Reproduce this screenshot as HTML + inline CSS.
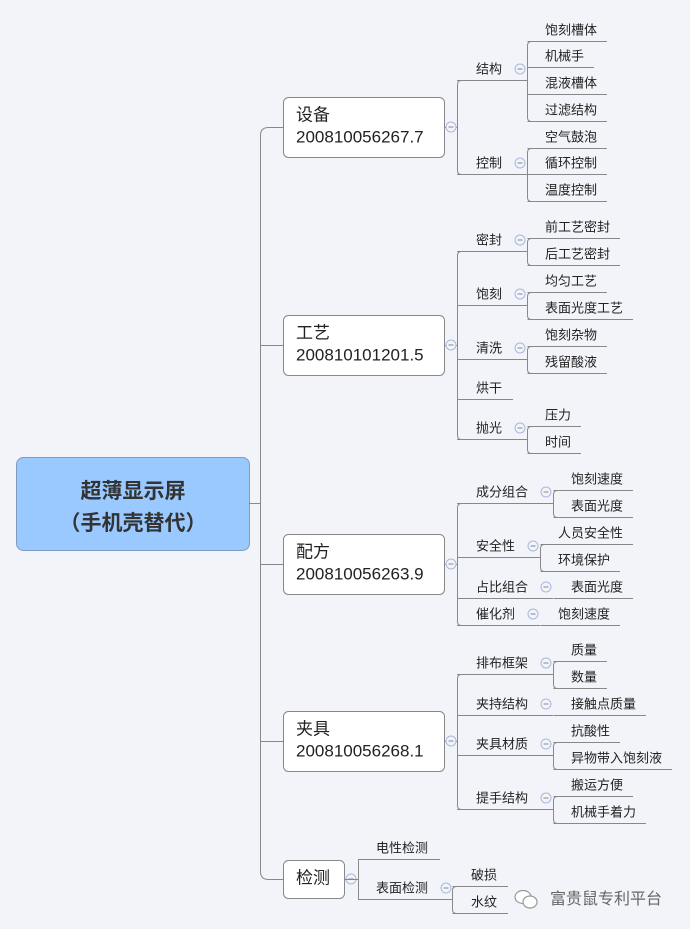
<!DOCTYPE html>
<html><head><meta charset="utf-8"><style>
html,body{margin:0;padding:0;background:#f3f4f9;}
svg{display:block;font-family:"Liberation Sans","Noto Sans CJK SC",sans-serif;}
</style></head><body>
<svg id="s" width="690" height="929" viewBox="0 0 690 929" xmlns="http://www.w3.org/2000/svg">
<rect width="690" height="929" fill="#f3f4f9"/>
<rect x="16.5" y="457.5" width="233" height="93" rx="7" fill="#99c9ff" stroke="#7f9cc0"/>
<text x="133" y="498" text-anchor="middle" font-size="21" font-weight="bold" fill="#333">超薄显示屏</text>
<text x="133" y="530" text-anchor="middle" font-size="21" font-weight="bold" fill="#333">（手机壳替代）</text>
<g id="g" fill="none" stroke="#888" stroke-width="1"></g>
<g id="t" font-size="13" fill="#222"></g>
<g transform="translate(515,890)" fill="#fff" stroke="#999" stroke-width="1.2">
<ellipse cx="8" cy="7" rx="8" ry="6.5"/><ellipse cx="15" cy="12" rx="7" ry="6"/>
</g>
<text x="550" y="904" font-size="16" fill="#666">富贵鼠专利平台</text>
</svg>
<script>
var g=document.getElementById('g'),T=document.getElementById('t'),NS='http://www.w3.org/2000/svg';
function el(p,n,a,txt){var e=document.createElementNS(NS,n);for(var k in a)e.setAttribute(k,a[k]);if(txt)e.textContent=txt;p.appendChild(e);return e;}
function line(d){el(g,'path',{d:d});}
function txt(x,y,s,fs){el(T,'text',{x:x,y:y+4.5,'font-size':fs||13},s);}
function circ(x,y){el(g,'circle',{cx:x,cy:y,r:5,stroke:'#a8b8e0',fill:'#f3f4f9'});line('M'+(x-2.5)+' '+y+'H'+(x+2.5));}
function bracket(x,ys,px,py){var a=Math.min.apply(null,ys),b=Math.max.apply(null,ys),r=4;
 line('M'+px+' '+(py+.5)+'H'+x);
 if(ys.length>1){line('M'+(x+.5+r)+' '+(a+.5)+'Q'+(x+.5)+' '+(a+.5)+' '+(x+.5)+' '+(a+.5+r)+'V'+(b+.5-r)+'Q'+(x+.5)+' '+(b+.5)+' '+(x+.5+r)+' '+(b+.5));}}
function w(s){return s.length*13;}
line('M249 503.5H260.5');
var L1=[
 {n:'设备',m:'200810056267.7',y:97,h:60,w:161,c:[
  {t:'结构',y:69,bx:527,lx:545,l:[['饱刻槽体',30],['机械手',56],['混液槽体',83],['过滤结构',110]]},
  {t:'控制',y:163,bx:527,lx:545,l:[['空气鼓泡',137],['循环控制',163],['温度控制',190]]}]},
 {n:'工艺',m:'200810101201.5',y:315,h:60,w:161,c:[
  {t:'密封',y:240,bx:527,lx:545,l:[['前工艺密封',227],['后工艺密封',254]]},
  {t:'饱刻',y:294,bx:527,lx:545,l:[['均匀工艺',281],['表面光度工艺',308]]},
  {t:'清洗',y:348,bx:527,lx:545,l:[['饱刻杂物',335],['残留酸液',362]]},
  {t:'烘干',y:388,end:513,l:[]},
  {t:'抛光',y:428,bx:527,lx:545,l:[['压力',415],['时间',442]]}]},
 {n:'配方',m:'200810056263.9',y:534,h:60,w:161,c:[
  {t:'成分组合',y:492,bx:553,lx:571,l:[['饱刻速度',479],['表面光度',506]]},
  {t:'安全性',y:546,bx:540,lx:558,l:[['人员安全性',533],['环境保护',560]]},
  {t:'占比组合',y:587,bx:553,lx:571,l:[['表面光度',587]]},
  {t:'催化剂',y:614,bx:540,lx:558,l:[['饱刻速度',614]]}]},
 {n:'夹具',m:'200810056268.1',y:711,h:60,w:161,c:[
  {t:'排布框架',y:663,bx:553,lx:571,l:[['质量',650],['数量',677]]},
  {t:'夹持结构',y:704,bx:553,lx:571,l:[['接触点质量',704]]},
  {t:'夹具材质',y:744,bx:553,lx:571,l:[['抗酸性',731],['异物带入饱刻液',758]]},
  {t:'提手结构',y:798,bx:553,lx:571,l:[['搬运方便',785],['机械手着力',812]]}]}
];
var cys=[];
L1.forEach(function(n){
 var cy=n.y+n.h/2;cys.push(cy);
 el(g,'rect',{x:283.5,y:n.y+.5,width:n.w,height:n.h,rx:5,fill:'#fff',stroke:'#888'});
 txt(296,n.y+19,n.n,17);txt(296,n.y+41,n.m,17);
 var us=[];
 n.c.forEach(function(c){
  var uy=c.y+11;us.push(uy);txt(476,c.y,c.t);
  if(c.end){line('M457 '+(uy+.5)+'H'+c.end);return;}
  var lys=[];
  c.l.forEach(function(l){var ly=l[1]+11;lys.push(ly);txt(c.lx,l[1],l[0]);line('M'+(c.bx+.5)+' '+(ly+.5)+'H'+(c.lx+w(l[0])+10));});
  bracket(c.bx,lys,457,uy);
  circ(c.bx-7,c.y);
 });
 line('M444 '+(cy+.5)+'H457.5');
 var a=Math.min.apply(null,us),b=Math.max.apply(null,us);
 line('M461.5 '+(a+.5)+'Q457.5 '+(a+.5)+' 457.5 '+(a+4.5)+'V'+(b-3.5)+'Q457.5 '+(b+.5)+' 461.5 '+(b+.5));
 circ(451,cy);
});
el(g,'rect',{x:283.5,y:860.5,width:61,height:38,rx:5,fill:'#fff',stroke:'#888'});
txt(296,879,'检测',17);
circ(351,879);
line('M344 879.5H358.5');
line('M440 859.5H358.5V899.5H452');
txt(376,848,'电性检测');txt(376,888,'表面检测');
circ(446,888);
bracket(452,[886,913],440,899);
txt(471,875,'破损');txt(471,902,'水纹');
line('M452.5 886.5H508');line('M452.5 913.5H508');
var ty=cys[0],by=879,rr=8;
line('M283 '+(ty+.5)+'H'+(260.5+rr)+'Q260.5 '+(ty+.5)+' 260.5 '+(ty+.5+rr)+'V'+(by+.5-rr)+'Q260.5 '+(by+.5)+' '+(260.5+rr)+' '+(by+.5)+'H283');
cys.slice(1).forEach(function(y){line('M260.5 '+(y+.5)+'H283');});
</script>
</body></html>
